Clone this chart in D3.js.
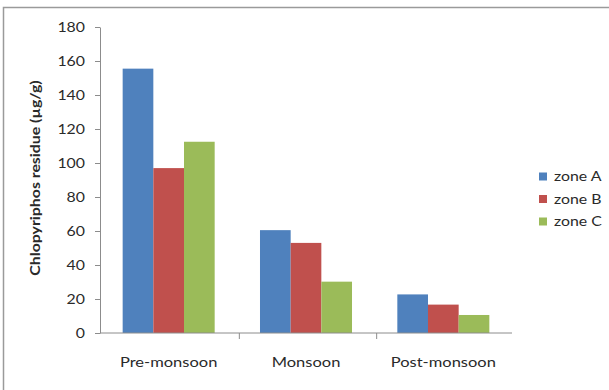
<!DOCTYPE html>
<html>
<head>
<meta charset="utf-8">
<script src="https://cdn.jsdelivr.net/npm/d3@7/dist/d3.min.js"></script>
<style>
  html, body { margin: 0; padding: 0; background: #fff; }
  svg { display: block; }
  text { font-family: Lato, "Open Sans", sans-serif; fill: #2a2a2a; }
</style>
</head>
<body>
<svg id="chart" width="609" height="390"></svg>
<script>
// Seasons on the x axis
const seasons = ["Pre-monsoon", "Monsoon", "Post-monsoon"];
// Sampling zones (one bar per zone in each season)
const zones = ["zone A", "zone B", "zone C"];
// Residue per zone, in season order (µg/g)
const zoneA = [155.5, 60.5, 22.7];
const zoneB = [97, 53, 16.7];
const zoneC = [112.5, 30.2, 10.6];
const yTicks = [0, 20, 40, 60, 80, 100, 120, 140, 160, 180];
const zoneColors = ["#4F81BD", "#C0504D", "#9BBB59"];

const seriesValues = [zoneA, zoneB, zoneC];
const rows = seasons.map((s, i) => ({
  season: s,
  values: zones.map((z, j) => ({ zone: z, value: seriesValues[j][i] }))
}));

const svg = d3.select("#chart");
const axisColor = "#8c8c8c";
const stretch = 1.27;   // horizontal widening of label glyphs

// Places a label at (x, y) with glyphs widened along the text direction
function label(parent, x, y, txt, opts = {}) {
  const g = parent.append("g")
    .attr("transform", `translate(${x},${y})${opts.rotate ? ` rotate(${opts.rotate})` : ""} scale(${stretch},1)`);
  return g.append("text")
    .attr("text-anchor", opts.anchor || "start")
    .style("font-size", (opts.size || 13) + "px")
    .style("font-weight", opts.bold ? "bold" : null)
    .text(txt);
}

// Chart area frame
svg.append("rect")
  .attr("x", 3.5).attr("y", 7.5)
  .attr("width", 620).attr("height", 400)
  .attr("fill", "none").attr("stroke", "#9a9a9a").attr("stroke-width", 1.5);

const plot = { left: 100, right: 512, top: 27, bottom: 333 };

const x0 = d3.scaleBand()
  .domain(seasons)
  .range([plot.left, plot.right])
  .paddingInner(0.33).paddingOuter(0.165);

const x1 = d3.scaleBand()
  .domain(zones)
  .range([0, x0.bandwidth()]);

const y = d3.scaleLinear()
  .domain([0, 180])
  .range([plot.bottom, plot.top]);

const color = d3.scaleOrdinal().domain(zones).range(zoneColors);

// Bars
svg.append("g").selectAll("g")
  .data(rows)
  .join("g")
  .attr("transform", d => `translate(${x0(d.season)},0)`)
  .selectAll("rect")
  .data(d => d.values)
  .join("rect")
  .attr("x", d => x1(d.zone))
  .attr("width", x1.bandwidth())
  .attr("y", d => y(d.value))
  .attr("height", d => y(0) - y(d.value))
  .attr("fill", d => color(d.zone));

// Y axis: line and ticks from the scale, labels widened separately
const yAxis = svg.append("g")
  .attr("transform", `translate(${plot.left},0)`)
  .call(d3.axisLeft(y).tickValues(yTicks).tickSize(5).tickSizeOuter(0).tickFormat(""));
yAxis.select(".domain").attr("stroke", axisColor);
yAxis.selectAll(".tick line").attr("stroke", axisColor);
const yLabels = svg.append("g");
yTicks.forEach(t => label(yLabels, 85, y(t) + 4.5, d3.format("d")(t), { anchor: "end", size: 12.5 }));

// X axis baseline with category separators
const xg = svg.append("g");
xg.append("line")
  .attr("x1", plot.left).attr("x2", plot.right)
  .attr("y1", y(0)).attr("y2", y(0))
  .attr("stroke", axisColor);
const step = (plot.right - plot.left) / seasons.length;
xg.selectAll("line.sep")
  .data(d3.range(1, seasons.length))
  .join("line")
  .attr("class", "sep")
  .attr("x1", i => plot.left + i * step + 2).attr("x2", i => plot.left + i * step + 2)
  .attr("y1", y(0)).attr("y2", y(0) + 6)
  .attr("stroke", axisColor);
seasons.forEach(s => label(xg, x0(s) + x0.bandwidth() / 2, 367, s, { anchor: "middle", size: 13 }));

// Y axis title
label(svg, 40, 178, "Chlopyriphos residue (µg/g)", { anchor: "middle", size: 12.5, bold: true, rotate: -90 });

// Legend
const legend = svg.append("g");
zones.forEach((z, i) => {
  const cy = 176.5 + i * 22.5;
  legend.append("rect")
    .attr("x", 539).attr("y", cy - 4)
    .attr("width", 8).attr("height", 8)
    .attr("fill", color(z));
  label(legend, 554, cy + 4.5, z, { size: 12.5 });
});
</script>
</body>
</html>
